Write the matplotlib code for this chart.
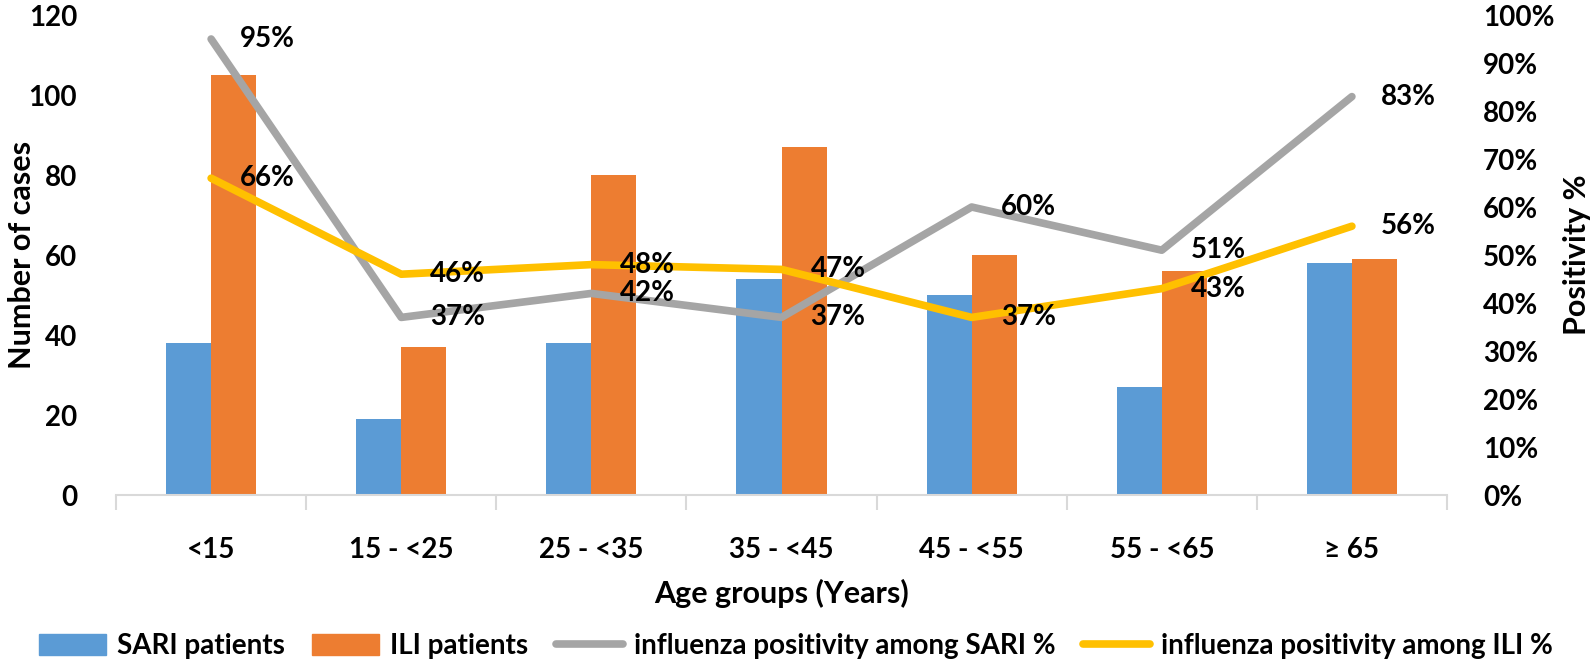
import matplotlib.pyplot as plt
import matplotlib.patches as mpatches
from matplotlib.lines import Line2D
from matplotlib.ticker import PercentFormatter
import numpy as np

plt.rcParams['font.family'] = ['Lato', 'DejaVu Sans']
plt.rcParams['font.weight'] = 'bold'

# data
age_groups = ['<15', '15 - <25', '25 - <35', '35 - <45', '45 - <55', '55 - <65', '\u2265 65']
sari_patients = [38, 19, 38, 54, 50, 27, 58]
ili_patients = [105, 37, 80, 87, 60, 56, 59]
sari_positivity = [95, 37, 42, 37, 60, 51, 83]
ili_positivity = [66, 46, 48, 47, 37, 43, 56]

blue = '#5B9BD5'
orange = '#ED7D31'
grey = '#A5A5A5'
yellow = '#FFC000'
fs = 20

fig = plt.figure(figsize=(15.92, 6.64), dpi=100)
ax = fig.add_axes([0.0729, 0.2545, 0.836, 0.7229])
x = np.arange(len(age_groups))
w = 0.237

ax.bar(x - w / 2, sari_patients, w, color=blue, zorder=2)
ax.bar(x + w / 2, ili_patients, w, color=orange, zorder=2)
ax.set_xlim(-0.5, len(age_groups) - 0.5)
ax.set_ylim(0, 120)
ax.set_yticks(range(0, 121, 20))
ax.set_xticks(x)
ax.set_xticklabels(age_groups)
ax.set_xticks(np.arange(-0.5, len(age_groups)), minor=True)
ax.tick_params(axis='x', which='major', length=0, pad=30, labelsize=fs)
ax.tick_params(axis='x', which='minor', length=11, width=1.5, color='#D9D9D9')
ax.tick_params(axis='y', length=0, pad=28, labelsize=fs)
for s in ['top', 'right', 'left']:
    ax.spines[s].set_visible(False)
ax.spines['bottom'].set_color('#D9D9D9')
ax.spines['bottom'].set_linewidth(1.5)
ax.set_ylabel('Number of cases', fontsize=fs + 2, fontweight='bold')
ax.yaxis.label.set_verticalalignment('center')
ax.yaxis.set_label_coords(-0.0706, 0.5)
ax.set_xlabel('Age groups (Years)', fontsize=fs + 2, fontweight='bold', labelpad=12)

ax2 = ax.twinx()
ax2.plot(x, sari_positivity, color=grey, lw=5.5, solid_capstyle='round', zorder=3)
ax2.plot(x, ili_positivity, color=yellow, lw=5.5, solid_capstyle='round', zorder=3)
ax2.set_ylim(0, 100)
ax2.set_yticks(range(0, 101, 10))
ax2.yaxis.set_major_formatter(PercentFormatter(decimals=0))
ax2.tick_params(axis='y', length=0, pad=26, labelsize=fs)
for s in ['top', 'right', 'left', 'bottom']:
    ax2.spines[s].set_visible(False)
ax2.set_ylabel('Positivity %', fontsize=fs + 2, fontweight='bold')
ax2.yaxis.label.set_verticalalignment('center')
ax2.yaxis.set_label_coords(1.098, 0.5)

for vals in (sari_positivity, ili_positivity):
    for xi, v in zip(x, vals):
        ax2.annotate(f'{v}%', (xi, v), xytext=(29, 0), textcoords='offset pixels',
                     ha='left', va='center', fontsize=fs, fontweight='bold', zorder=4)

handles = [
    mpatches.Patch(color=blue, label='SARI patients'),
    mpatches.Patch(color=orange, label='ILI patients'),
    Line2D([], [], color=grey, lw=5.5, solid_capstyle='round', label='influenza positivity among SARI %'),
    Line2D([], [], color=yellow, lw=5.5, solid_capstyle='round', label='influenza positivity among ILI %'),
]
fig.legend(handles=handles, loc='center', bbox_to_anchor=(0.5, 0.027), ncol=4, frameon=False,
           fontsize=fs, handlelength=2.4, handleheight=0.8, handletextpad=0.4, columnspacing=1.0)

fig.savefig('out.png', dpi=100)
